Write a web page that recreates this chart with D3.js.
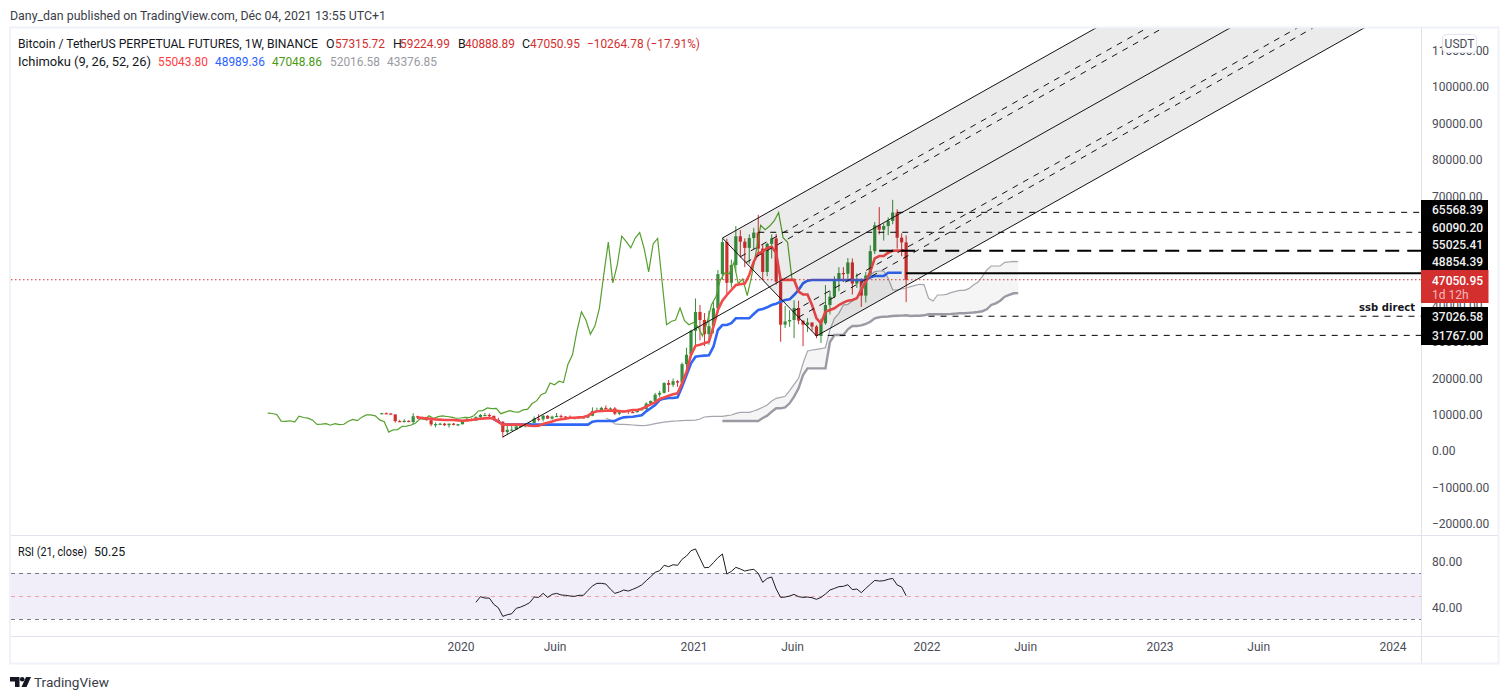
<!DOCTYPE html>
<html><head><meta charset="utf-8">
<script src="https://d3js.org/d3.v7.min.js"></script>
<style>html,body{margin:0;padding:0;background:#fff}svg{display:block}text{font-family:Roboto,sans-serif}</style>
</head><body><svg id="c" width="1509" height="700"></svg>
<script>
// ---- data ----
const firstWeek = "2019-09-02";
const opens = [
10270,10390,10310,10050,8220,8150,8300,7960,9550,9200,
9040,8470,7320,7400,7510,7080,7510,7250,7350,8180,
8700,8350,9300,9900,9900,9660,8540,8030,5200,5820,
5880,6770,6860,7130,7700,8890,8720,9680,8900,9450,
9650,9470,9300,9000,9070,9260,9180,9680,11000,11100,
11850,11650,11700,10250,10680,11080,10730,10660,11300,11500,
13030,13760,15480,15970,18670,18180,19170,18800,23850,26440,
33000,38200,36000,32100,34300,39200,48600,57400,46200,51100,
59000,57500,55800,58500,60000,55600,49200,56900,58400,46500,
34700,35600,36000,39300,35800,34700,35300,34200,31600,35100,
40100,42400,47000,48900,48700,51800,46000,47250,42700,48200,
54900,62000,60800,61800,63200,65500,58600,57315.72];
const highs = [
10480,10560,10350,10100,8550,8720,8410,10400,9700,9450,
9190,8560,7850,7770,7700,7550,7700,7450,8450,9190,
8990,9550,10170,10500,10300,9700,9150,8200,6900,6900,
7190,7450,7200,7780,9470,10070,9950,9830,9700,10430,
10000,9600,9770,9370,9500,9300,9800,12000,11900,12150,
12500,12000,12050,10750,11200,11180,11000,11450,11750,13350,
13850,15950,16500,18900,19500,19900,19450,24300,28400,33300,
41900,40100,37900,38500,40900,49700,58400,58300,52600,61800,
60700,58400,59500,61300,64900,56800,57200,59500,59600,46600,
39900,38700,41400,41300,35900,36500,35300,34600,36400,45600,
44000,48000,50500,50500,53000,52900,48800,47400,49200,56500,
62900,67000,62500,64200,69000,66400,59800,59224.99];
const lows = [
10200,10150,9950,7800,7950,7800,7900,7300,8800,8800,
8350,6800,6500,7150,6900,6440,7050,6850,7300,8150,
8230,8270,9050,9600,9300,8400,7900,3650,4400,5650,
5850,6500,6480,6900,7640,8130,8100,8800,8630,9300,
9100,8900,8830,8880,9000,9000,9030,9550,10900,11000,
11500,11100,9850,9850,10600,10150,10400,10540,11200,11300,
12750,13200,14800,15800,16200,17600,17600,18700,21800,26400,
28800,30400,28850,29200,32300,37900,47000,43000,44900,49300,
53200,50500,51500,55500,53500,47000,48000,52900,45700,30000,
33800,34100,31000,34800,28800,32700,33000,31000,29700,34700,
37500,42000,43900,46400,46500,43000,44800,39600,40800,47200,
54100,59500,57800,59300,62300,55600,53500,40888.89];
const closes = [
10390,10310,10050,8220,8150,8300,7960,9550,9200,9040,
8470,7320,7400,7510,7080,7510,7250,7350,8180,8700,
8350,9300,9900,9900,9660,8540,8030,5200,5820,5880,
6770,6860,7130,7700,8890,8720,9680,8900,9450,9650,
9470,9300,9000,9070,9260,9180,9680,11000,11100,11850,
11650,11700,10250,10680,11080,10730,10660,11300,11500,13030,
13760,15480,15970,18670,18180,19170,18800,23850,26440,33000,
38200,36000,32100,34300,39200,48600,57400,46200,51100,59000,
57500,55800,58500,60000,55600,49200,56900,58400,46500,34700,
35600,36000,39300,35800,34700,35300,34200,31600,35100,40100,
42400,47000,48900,48700,51800,46000,47250,42700,48200,54900,
62000,60800,61800,63200,65500,58600,57315.72,47050.95];
// Tenkan, first value belongs to week 8
const tenkanStart = 8;
const tenkan = [
9160,9070,8970,8880,8700,8610,8520,8520,8520,8420,8330,8420,
8520,8700,8880,8970,9070,8880,7970,7240,7240,7240,7240,7240,
7150,6950,6880,6950,7400,7750,8100,8500,8700,8880,9150,9150,
9250,9340,9700,10530,10900,10990,11080,11080,11080,10990,10810,11080,
11270,11270,11630,12180,12800,13370,14290,14740,15200,15570,15840,18600,
21800,26400,28900,29200,29600,30000,34150,38740,41300,42860,44230,45600,
45800,46000,48350,52000,54300,54760,55700,56100,54400,47000,47000,47000,
47000,43800,43000,43000,40100,36450,35080,38270,38740,39200,40100,40750,
41300,41480,41950,44230,46500,49260,52930,53570,53570,54480,55030,55043.8,
55043.8,55043.8];
// Kijun, first value belongs to week 25
const kijunStart = 25;
const kijun = [
8700,8070,7330,7240,7240,7240,7240,7240,7240,7240,7240,7240,7240,7240,7240,7240,
7240,7240,7240,7240,7240,7240,8070,8250,8250,8250,8250,8250,8880,9250,9340,9430,
9620,9800,10900,11730,12640,14000,14390,14570,14570,14750,17680,20880,24090,25900,
26100,26200,26300,28650,33240,34600,34600,35100,36450,36450,36450,36450,37640,38740,
39000,39470,40100,40470,41020,41480,41670,42860,44230,46070,46800,46980,46980,46980,
46980,46980,46980,46980,46980,46980,46980,46980,46980,46980,47700,48080,48080,48080,
48989.36,48989.36,48989.36,48989.36];
// Senkou A, first value sits at week 50
const spanAStart = 50;
const spanA = [
9000,8500,7430,7330,7330,7240,7150,7050,6960,7050,7240,7500,7750,7950,8070,8200,8250,8340,8400,8400,
8500,8800,9340,9430,9500,9530,9530,9700,9890,10350,10620,10620,10620,10990,11440,12000,12640,13740,14470,14740,
15020,16570,18320,19970,24090,27470,27750,27930,28100,28380,33240,36450,37830,40100,40290,41200,41950,45140,47440,48350,
49260,49450,49450,47440,44230,44230,44500,44780,45140,45520,45800,45700,41950,41200,42860,42860,43040,43500,43870,44150,
44150,44600,45600,46340,47900,49720,50820,50820,50820,51830,51950,52110,52016.58];
// Senkou B, first value sits at week 76
const spanBStart = 76;
const spanB = [
8240,8240,8240,8240,8240,8240,8240,8240,8240,9070,9700,10800,11730,11730,12000,13100,14920,17220,20880,22710,
22710,22710,22710,22710,29950,31870,31870,31870,33430,34340,34340,34500,34890,35520,36450,36730,36900,36950,37090,37150,
37200,37280,37090,37150,37150,37280,37550,37550,37550,37550,37600,37650,37750,37830,37830,37950,38050,38190,38400,38930,
40110,40570,41300,42390,42860,43320,43376.85];
// RSI, last value is the last week
const rsi = [
44.5,49.4,48.2,48.2,42.7,39.8,32.3,33.7,34.6,39.3,40.4,42.1,44.2,49.1,48.8,52.3,48.8,51.4,52.3,
50.9,50.6,50.0,49.7,50.6,50.6,54.9,58.7,61.0,61.0,60.4,56.0,52.3,53.5,55.2,54.3,55.8,57.5,59.6,63.3,
66.8,70.6,72.0,76.7,75.5,77.2,76.7,81.9,84.8,89.4,90.9,82.7,74.6,74.9,79.0,83.3,86.5,69.1,71.4,74.9,73.5,71.7,72.6,
73.2,69.7,61.9,65.3,66.5,56.1,48.8,49.1,50.0,51.4,49.4,48.8,49.1,48.5,47.1,48.8,51.7,55.2,56.6,58.1,
58.4,59.8,55.5,56.1,52.9,56.6,60.1,63.6,63.0,63.3,64.5,65.3,59.6,57.8,50.25];
const rsiTicks = [80,40];
const rsiBands = [70,50,30];
const priceTicks = [110000,100000,90000,80000,70000,60000,50000,40000,30000,20000,10000,0,-10000,-20000];
const timeTickDates = ["2020-01-06","2020-06-01","2021-01-04","2021-06-07","2022-01-03","2022-06-06","2023-01-02","2023-06-05","2024-01-01"];
const timeTickLabels = ["2020","Juin","2021","Juin","2022","Juin","2023","Juin","2024"];
// drawing pivots: week index, price
const pivotA = [27,3850];
const pivotB = [76,58500];
const pivotC = [97,31600];
const forkLevels = [0.5,0.618];
// horizontal levels: price, first week, style
const levelPrices = [65568.39,60090.20,55025.41,48854.39,37026.58,31767.00];
const levelFrom   = [115,84,111,117,122,99.5];
const levelKinds  = ["thin","thin","thick","solid","thin","thin"];
const lastPrice = 47050.95;

// ---- scales ----
const week = k => d3.utcHour.offset(new Date(firstWeek+"T00:00:00Z"), Math.round(k*168));
const x = d3.scaleUtc().domain([new Date(firstWeek+"T00:00:00Z"),new Date("2024-01-01T00:00:00Z")]).range([381.8,1394.6]);
const y = d3.scaleLinear().domain([0,100000]).range([451,87]);
const yR = d3.scaleLinear().domain([40,80]).range([607.5,561.5]);
const X = k => x(week(k));

const svg = d3.select("#c");
const defs = svg.append("defs");
defs.append("clipPath").attr("id","pane").append("rect").attr("x",11).attr("y",28).attr("width",1410).attr("height",507);
defs.append("clipPath").attr("id","paneR").append("rect").attr("x",11).attr("y",536).attr("width",1410).attr("height",100);

const RED="#d32f2f", GREEN="#388e3c", TXT="#131722", AX="#4a4d57";

// ---- header ----
svg.append("text").attr("x",10).attr("y",20).attr("font-size",13).attr("fill","#3a3d47").attr("textLength",376).attr("lengthAdjust","spacingAndGlyphs").text("Dany_dan published on TradingView.com, Déc 04, 2021 13:55 UTC+1");
const hdr = svg.append("g").attr("font-size",12.4);
const H = (tx,px,py,c,w)=>{const t=hdr.append("text").attr("x",px).attr("y",py).attr("fill",c).text(tx);if(w)t.attr("textLength",w).attr("lengthAdjust","spacingAndGlyphs");};
H("Bitcoin / TetherUS PERPETUAL FUTURES, 1W, BINANCE",18,48,TXT,300);
H("O",326,48,TXT);H("57315.72",335,48,RED,50);
H("H",393,48,TXT);H("59224.99",400,48,RED,50);
H("B",458,48,TXT);H("40888.89",465,48,RED,50);
H("C",522,48,TXT);H("47050.95",530,48,RED,50);
H("−10264.78 (−17.91%)",587,48,RED,113);
H("Ichimoku (9, 26, 52, 26)",18,66,TXT,133);
H("55043.80",158,66,"#ff4040",50);H("48989.36",215,66,"#2962ff",50);H("47048.86",272,66,"#4c9a16",50);
H("52016.58",330,66,"#9a9aa2",50);H("43376.85",387,66,"#9a9aa2",50);

// ---- price pane ----
const pane = svg.append("g").attr("clip-path","url(#pane)");
// cloud
const cloudRows = spanB.map((b,i)=>({j:spanBStart+i,b,a:spanA[spanBStart+i-spanAStart]}));
pane.append("path").datum(cloudRows).attr("fill","rgba(120,120,120,0.075)")
  .attr("d",d3.area().x(d=>X(d.j)).y0(d=>y(d.a)).y1(d=>y(d.b)));
// candles
const idx = d3.range(closes.length);
const cs = pane.append("g");
cs.selectAll("line").data(idx).join("line")
  .attr("x1",k=>X(k)).attr("x2",k=>X(k)).attr("y1",k=>y(highs[k])).attr("y2",k=>y(lows[k]))
  .attr("stroke",k=>closes[k]>=opens[k]?GREEN:RED).attr("stroke-width",1);
cs.selectAll("rect").data(idx).join("rect")
  .attr("x",k=>X(k)-1.6).attr("width",3.2)
  .attr("y",k=>y(Math.max(opens[k],closes[k])))
  .attr("height",k=>Math.max(1.2,Math.abs(y(opens[k])-y(closes[k]))))
  .attr("fill",k=>closes[k]>=opens[k]?GREEN:RED);
// span lines
const ln = (arr,start,offset=0)=>d3.line().x((d,i)=>X(start+i+offset)).y(d=>y(d))(arr);
pane.append("path").attr("d",ln(spanA,spanAStart)).attr("fill","none").attr("stroke","#a6a6ae").attr("stroke-width",1.2);
pane.append("path").attr("d",ln(spanB,spanBStart)).attr("fill","none").attr("stroke","#9a9aa4").attr("stroke-width",2.4);
// chikou
pane.append("path").attr("d",ln(closes,0,-25.45)).attr("fill","none").attr("stroke","#55a02e").attr("stroke-width",1.2);
// kijun, tenkan
pane.append("path").attr("d",ln(kijun,kijunStart)).attr("fill","none").attr("stroke","#2f66f5").attr("stroke-width",2.6);
pane.append("path").attr("d",ln(tenkan,tenkanStart)).attr("fill","none").attr("stroke","#f44a4a").attr("stroke-width",2.6);

// pitchfork
const P = p=>[X(p[0]),y(p[1])];
const mid = [(pivotB[0]+pivotC[0])/2,(pivotB[1]+pivotC[1])/2];
const dir = [mid[0]-pivotA[0],mid[1]-pivotA[1]];
const far = (p,t=5)=>[p[0]+dir[0]*t,p[1]+dir[1]*t];
const fork = pane.append("g");
fork.append("path").attr("d",d3.line()([P(pivotB),P(far(pivotB)),P(far(pivotC)),P(pivotC)])+"Z").attr("fill","rgba(0,0,0,0.08)");
const seg = (a,b,dash)=>{const l=fork.append("line").attr("x1",P(a)[0]).attr("y1",P(a)[1]).attr("x2",P(b)[0]).attr("y2",P(b)[1]).attr("stroke","#131313").attr("stroke-width",1);if(dash)l.attr("stroke-dasharray",dash);};
seg(pivotA,far(pivotA,6));
seg(pivotB,far(pivotB));
seg(pivotC,far(pivotC));
seg(pivotB,pivotC);
forkLevels.forEach(l=>{
  [pivotB,pivotC].forEach(e=>{
    const s=[mid[0]+(e[0]-mid[0])*l,mid[1]+(e[1]-mid[1])*l];
    seg(s,far(s),"6 6");
  });
});
// last price dotted
pane.append("line").attr("x1",11).attr("x2",1421).attr("y1",y(lastPrice)).attr("y2",y(lastPrice))
  .attr("stroke",RED).attr("stroke-width",1).attr("stroke-dasharray","1.5 2.5");
// horizontals
levelPrices.forEach((p,i)=>{
  const l=pane.append("line").attr("x1",X(levelFrom[i])).attr("x2",1421).attr("y1",y(p)).attr("y2",y(p)).attr("stroke","#000");
  if(levelKinds[i]==="thin")l.attr("stroke-width",1).attr("stroke-dasharray","6 6");
  if(levelKinds[i]==="thick")l.attr("stroke-width",2).attr("stroke-dasharray","14 8");
  if(levelKinds[i]==="solid")l.attr("stroke-width",2);
});
pane.append("text").attr("x",1415).attr("y",311).attr("text-anchor","end").attr("font-size",10).attr("font-weight",600).attr("fill","#131722").attr("textLength",56).attr("lengthAdjust","spacing").attr("style","font-family:'DejaVu Sans',sans-serif").text("ssb direct");

// ---- RSI pane ----
const rp = svg.append("g").attr("clip-path","url(#paneR)");
rp.append("rect").attr("x",11).attr("width",1410).attr("y",yR(70)).attr("height",yR(30)-yR(70)).attr("fill","#f1eef9");
rsiBands.forEach(v=>rp.append("line").attr("x1",11).attr("x2",1421).attr("y1",yR(v)+.5).attr("y2",yR(v)+.5)
  .attr("stroke",v===50?"#eca2aa":"#787b86").attr("stroke-dasharray","4 4"));
const rsiStart = closes.length-rsi.length;
rp.append("path").attr("d",d3.line().x((d,i)=>X(rsiStart+i)).y(d=>yR(d))(rsi)).attr("fill","none").attr("stroke","#1c1c24").attr("stroke-width",1);
svg.append("text").attr("x",18).attr("y",556).attr("font-size",12.4).attr("fill",TXT).attr("textLength",69).attr("lengthAdjust","spacingAndGlyphs").text("RSI (21, close)");
svg.append("text").attr("x",94).attr("y",556).attr("font-size",12.4).attr("fill",TXT).text("50.25");

// ---- frame ----
svg.append("rect").attr("x",10).attr("y",27.5).attr("width",1488.5).attr("height",636).attr("fill","none").attr("stroke","#eff2f8").attr("stroke-width",2);
[[1421.5,28,1421.5,663],[11,535.5,1498,535.5],[11,636.5,1498,636.5]].forEach(s=>
  svg.append("line").attr("x1",s[0]).attr("y1",s[1]).attr("x2",s[2]).attr("y2",s[3]).attr("stroke","#e0e3eb"));

// ---- axes ----
const fmt = v=>(v<0?"−":"")+Math.abs(v).toFixed(2);
const yAxis = d3.axisRight(y).tickValues(priceTicks).tickFormat(fmt).tickSize(0).tickPadding(0);
const gy = svg.append("g").attr("transform","translate(1432,0)").call(yAxis);
gy.select(".domain").remove();
gy.selectAll("text").attr("font-size",12).attr("fill",AX).attr("style","font-family:Roboto,sans-serif");
const gr = svg.append("g").attr("transform","translate(1432,0)").call(d3.axisRight(yR).tickValues(rsiTicks).tickFormat(d=>d.toFixed(2)).tickSize(0).tickPadding(0));
gr.select(".domain").remove();
gr.selectAll("text").attr("font-size",12).attr("fill",AX).attr("style","font-family:Roboto,sans-serif");
const tickD = timeTickDates.map(d=>new Date(d+"T00:00:00Z"));
const gx = svg.append("g").attr("transform","translate(-2,642)").call(
  d3.axisBottom(x).tickValues(tickD).tickFormat((d,i)=>timeTickLabels[i]).tickSize(0).tickPadding(0));
gx.select(".domain").remove();
gx.selectAll("text").attr("font-size",12).attr("fill",AX).attr("style","font-family:Roboto,sans-serif");

// ---- price labels ----
const bx = svg.append("g");
bx.append("rect").attr("x",1421).attr("y",200).attr("width",67).attr("height",70).attr("fill","#000");
bx.append("rect").attr("x",1421).attr("y",307).attr("width",67).attr("height",38).attr("fill","#000");
bx.append("rect").attr("x",1421).attr("y",270).attr("width",67.5).attr("height",33).attr("fill",RED);
const labelY = [210,227.5,245,262,316.5,335.5];
levelPrices.forEach((p,i)=>bx.append("text").attr("x",1432).attr("y",labelY[i]+4.3).attr("font-size",12).attr("font-weight",500).attr("fill","#f0f0f0").text(p.toFixed(2)));
bx.append("text").attr("x",1432).attr("y",284.5).attr("font-size",12).attr("font-weight",500).attr("fill","#fff").text(lastPrice.toFixed(2));
bx.append("text").attr("x",1432).attr("y",298.5).attr("font-size",12).attr("fill","#f3b9b9").text("1d 12h");
// currency button
bx.append("rect").attr("x",1442.5).attr("y",34.5).attr("width",34).attr("height",18).attr("rx",4).attr("fill","#fff").attr("stroke","#e0e3eb");
bx.append("text").attr("x",1459.5).attr("y",48).attr("text-anchor","middle").attr("font-size",12).attr("fill",AX).text("USDT");

// ---- logo ----
const logo = svg.append("g").attr("fill","#131722");
logo.append("path").attr("d","M10 677H19.5V687H15V681.5H10Z");
logo.append("circle").attr("cx",22.2).attr("cy",679.3).attr("r",2.3);
logo.append("path").attr("d","M26 677H31L26.5 687H21.5Z");
svg.append("text").attr("x",34).attr("y",687).attr("font-size",13.6).attr("fill","#3a3d47").text("TradingView");
</script></body></html>
